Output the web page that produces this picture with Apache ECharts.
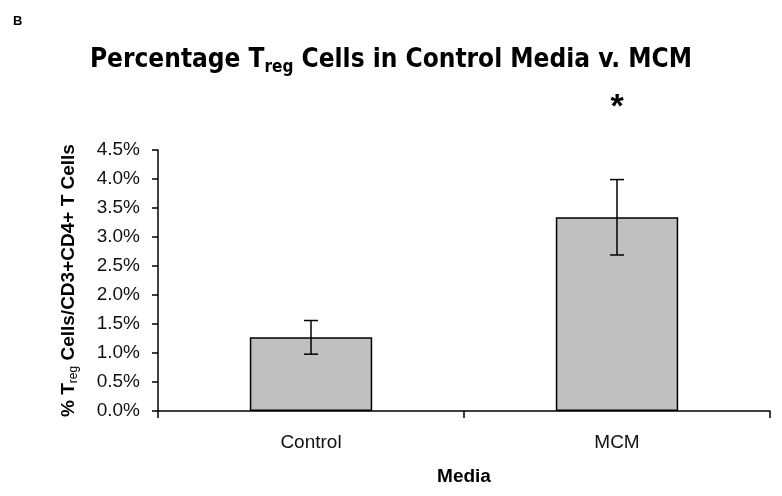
<!DOCTYPE html>
<html>
<head>
<meta charset="utf-8">
<script src="https://cdn.jsdelivr.net/npm/echarts@6/dist/echarts.min.js"></script>
<style>
  html, body { margin: 0; padding: 0; background: #fff; }
  #main { width: 782px; height: 496px; }
</style>
</head>
<body>
<div id="main"></div>
<script>
// values in percent
const categories = ['Control', 'MCM'];
const means = [1.27, 3.34];
const errors = [0.29, 0.65];
const marks = ['', '*'];
const yTicks = { min: 0, max: 4.5, step: 0.5 };

const titleFont = '"DejaVu Sans Condensed", "Liberation Sans", sans-serif';

const chart = echarts.init(document.getElementById('main'));

const option = {
  backgroundColor: '#fff',
  animation: false,
  title: [
    {
      text: 'B',
      left: 8,
      top: 10,
      textStyle: { fontFamily: 'Liberation Sans', fontWeight: 'bold', fontSize: 13, color: '#000' }
    },
    {
      text: '{a|Percentage T}{s|reg}{a| Cells in Control Media v. MCM}',
      left: 'center',
      top: 40,
      textStyle: {
        rich: {
          a: { fontFamily: titleFont, fontWeight: 'bold', fontSize: 26, color: '#000' },
          s: { fontFamily: titleFont, fontWeight: 'bold', fontSize: 17, color: '#000', padding: [14, 0, 0, 0] }
        }
      }
    }
  ],
  grid: { left: 158, right: 12, top: 150, bottom: 85 },
  xAxis: {
    type: 'category',
    data: categories,
    name: 'Media',
    nameLocation: 'middle',
    nameGap: 56,
    nameTextStyle: { fontFamily: 'Liberation Sans', fontWeight: 'bold', fontSize: 19, color: '#000' },
    axisLine: { lineStyle: { color: '#000', width: 1.5 } },
    axisTick: { show: true, length: 7, lineStyle: { color: '#000', width: 1.5 } },
    axisLabel: { fontFamily: 'Liberation Sans', fontSize: 19, color: '#111', margin: 22 }
  },
  yAxis: {
    type: 'value',
    min: yTicks.min,
    max: yTicks.max,
    interval: yTicks.step,
    name: '{a|% T}{s|reg}{a| Cells/CD3+CD4+ T Cells}',
    nameLocation: 'middle',
    nameGap: 78,
    nameTextStyle: {
      rich: {
        a: { fontFamily: 'Liberation Sans', fontWeight: 'bold', fontSize: 19, color: '#000' },
        s: { fontFamily: 'Liberation Sans', fontSize: 12, color: '#000', padding: [10, 0, 0, 0] }
      }
    },
    splitLine: { show: false },
    axisLine: { show: true, lineStyle: { color: '#000', width: 1.5 } },
    axisTick: { show: true, length: 6, lineStyle: { color: '#000', width: 1.5 } },
    axisLabel: {
      fontFamily: 'Liberation Sans',
      fontSize: 19,
      color: '#111',
      margin: 18,
      formatter: v => v.toFixed(1) + '%'
    }
  },
  series: [
    {
      type: 'bar',
      data: means,
      barWidth: '40%',
      itemStyle: { color: '#c0c0c0', borderColor: '#000', borderWidth: 1.5 }
    },
    {
      type: 'custom',
      data: means.map((m, i) => [i, m - errors[i], m + errors[i]]),
      z: 10,
      renderItem: function (params, api) {
        const i = api.value(0);
        const lo = api.coord([i, api.value(1)]);
        const hi = api.coord([i, api.value(2)]);
        const x = lo[0];
        const cap = 7;
        const style = { stroke: '#000', lineWidth: 1.5 };
        const children = [
          { type: 'line', shape: { x1: x, y1: lo[1], x2: x, y2: hi[1] }, style },
          { type: 'line', shape: { x1: x - cap, y1: lo[1], x2: x + cap, y2: lo[1] }, style },
          { type: 'line', shape: { x1: x - cap, y1: hi[1], x2: x + cap, y2: hi[1] }, style }
        ];
        if (marks[i]) {
          children.push({
            type: 'text',
            style: {
              text: marks[i],
              x: x,
              y: hi[1] - 72,
              align: 'center',
              verticalAlign: 'middle',
              fontFamily: 'Liberation Sans',
              fontWeight: 'bold',
              fontSize: 34,
              fill: '#000'
            }
          });
        }
        return { type: 'group', children };
      }
    }
  ]
};

chart.setOption(option);
</script>
</body>
</html>
